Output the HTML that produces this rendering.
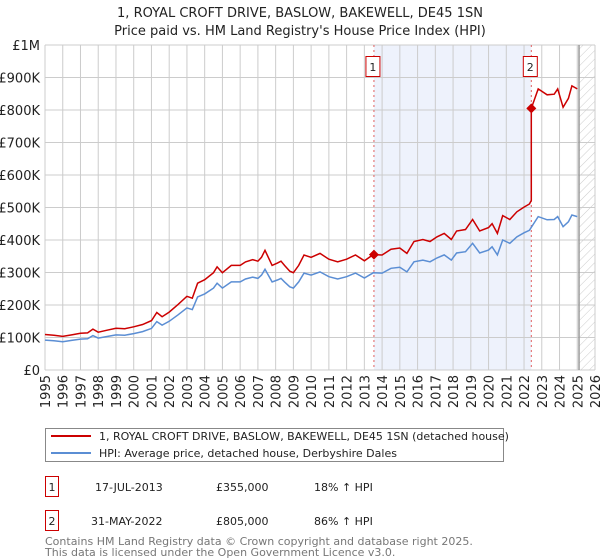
<!DOCTYPE html>
<html><head><meta charset="utf-8"><style>
body{margin:0;background:#fff;font-family:"Liberation Sans","DejaVu Sans",sans-serif;}
#wrap{position:relative;width:600px;height:560px;overflow:hidden}
</style></head><body><div id="wrap">
<svg id="svg" width="600" height="560" xmlns="http://www.w3.org/2000/svg" font-family="DejaVu Sans, Liberation Sans, sans-serif">
<defs><pattern id="hatch" width="6" height="6" patternUnits="userSpaceOnUse" patternTransform="rotate(45)"><line x1="0" y1="0" x2="0" y2="6" stroke="#ccc" stroke-width="1"/></pattern></defs>
<text x="300" y="17" text-anchor="middle" font-size="13" fill="#222">1, ROYAL CROFT DRIVE, BASLOW, BAKEWELL, DE45 1SN</text>
<text x="300" y="35" text-anchor="middle" font-size="13" fill="#222">Price paid vs. HM Land Registry's House Price Index (HPI)</text>
<g id="plot"></g>
<rect x="45.5" y="428.5" width="458" height="33" fill="#fff" stroke="#888"/>
<line x1="51" y1="436" x2="91" y2="436" stroke="#cc0000" stroke-width="2"/>
<text x="99" y="440" font-size="11" fill="#222">1, ROYAL CROFT DRIVE, BASLOW, BAKEWELL, DE45 1SN (detached house)</text>
<line x1="51" y1="453" x2="91" y2="453" stroke="#5b8ed4" stroke-width="2"/>
<text x="99" y="457" font-size="11" fill="#222">HPI: Average price, detached house, Derbyshire Dales</text>
<g>
<rect x="45.5" y="476.5" width="13" height="20" fill="#fff" stroke="#cc0000"/>
<text x="52" y="491" font-size="11" text-anchor="middle" fill="#222">1</text>
<text x="95" y="491" font-size="11" fill="#222">17-JUL-2013</text>
<text x="216" y="491" font-size="11" fill="#222">£355,000</text>
<text x="314" y="491" font-size="11" fill="#222">18% ↑ HPI</text></g>
<g>
<rect x="45.5" y="510.5" width="13" height="20" fill="#fff" stroke="#cc0000"/>
<text x="52" y="525" font-size="11" text-anchor="middle" fill="#222">2</text>
<text x="91" y="525" font-size="11" fill="#222">31-MAY-2022</text>
<text x="216" y="525" font-size="11" fill="#222">£805,000</text>
<text x="314" y="525" font-size="11" fill="#222">86% ↑ HPI</text></g>
<text x="45" y="545" font-size="11" fill="#777">Contains HM Land Registry data © Crown copyright and database right 2025.</text>
<text x="45" y="556" font-size="11" fill="#777">This data is licensed under the Open Government Licence v3.0.</text>
</svg></div>
<script>
const yearTicks=[1995,1996,1997,1998,1999,2000,2001,2002,2003,2004,2005,2006,2007,2008,2009,2010,2011,2012,2013,2014,2015,2016,2017,2018,2019,2020,2021,2022,2023,2024,2025,2026];
const valueTicks=[0,100000,200000,300000,400000,500000,600000,700000,800000,900000,1000000];
const valueLabels=["£0","£100K","£200K","£300K","£400K","£500K","£600K","£700K","£800K","£900K","£1M"];
const hpiDates=[1995.0,1995.5,1996.0,1996.5,1997.0,1997.4,1997.7,1998.0,1998.5,1999.0,1999.5,2000.0,2000.5,2001.0,2001.3,2001.6,2002.0,2002.5,2003.0,2003.3,2003.6,2004.0,2004.5,2004.7,2005.0,2005.5,2006.0,2006.3,2006.7,2007.0,2007.2,2007.4,2007.8,2008.1,2008.3,2008.5,2008.8,2009.0,2009.3,2009.6,2010.0,2010.5,2011.0,2011.5,2012.0,2012.5,2013.0,2013.5,2014.0,2014.5,2015.0,2015.4,2015.8,2016.3,2016.7,2017.1,2017.5,2017.9,2018.2,2018.7,2019.1,2019.5,2020.0,2020.2,2020.5,2020.8,2021.2,2021.6,2022.0,2022.3,2022.8,2023.3,2023.7,2023.9,2024.2,2024.5,2024.7,2025.0];
const hpiValues=[92,90,87,91,95,96,106,98,103,108,107,112,118,128,149,138,150,170,191,186,225,234,252,267,252,271,271,280,286,282,292,310,271,277,282,271,256,252,271,298,292,302,287,280,287,298,283,299,298,313,316,302,333,338,333,345,354,338,360,364,390,360,369,379,354,400,390,410,422,430,472,462,463,472,441,456,477,472];
const saleDates=[2013.54,2022.41];
const salePrices=[355000,805000];
const saleLabels=["1","2"];
const NS="http://www.w3.org/2000/svg";
const X0=45,X1=595,Y0=370,Y1=45;
const xs=y=>X0+(y-1995)/(2026-1995)*(X1-X0);
const ys=v=>Y0-v/1000000*(Y0-Y1);
const g=document.getElementById('plot');
function mk(t,a){const e=document.createElementNS(NS,t);for(const k in a)e.setAttribute(k,a[k]);g.appendChild(e);return e;}
function hpiAt(d){for(let i=0;i<hpiDates.length-1;i++){if(d>=hpiDates[i]&&d<=hpiDates[i+1]){const f=(d-hpiDates[i])/(hpiDates[i+1]-hpiDates[i]);return (hpiValues[i]+f*(hpiValues[i+1]-hpiValues[i]))*1000;}}return hpiValues[hpiValues.length-1]*1000;}
let e;
e=mk('rect',{x:xs(saleDates[0]),y:Y1,width:xs(saleDates[1])-xs(saleDates[0]),height:Y0-Y1,fill:'#eef2fc'});


e=mk('rect',{x:xs(2025.1),y:Y1,width:X1-xs(2025.1),height:Y0-Y1,fill:'url(#hatch)'});


valueTicks.forEach((v,i)=>{
 e=mk('line',{x1:X0,x2:X1,y1:ys(v),y2:ys(v),stroke:'#ccc'});
 
 
 e=mk('text',{x:40,y:ys(v)+5,'text-anchor':'end','font-size':13,fill:'#222'});e.textContent=valueLabels[i];
 
 
});
yearTicks.forEach(y=>{
 e=mk('line',{x1:xs(y),x2:xs(y),y1:Y1,y2:Y0,stroke:'#ccc'});
 
 
 e=mk('text',{x:0,y:0,'text-anchor':'end','font-size':13,fill:'#222',transform:`translate(${xs(y)+5},${Y0+5}) rotate(-90)`});e.textContent=y;
 
 
});
e=mk('line',{x1:xs(2025.1),x2:xs(2025.1),y1:Y1,y2:Y0,stroke:'#999','stroke-width':1.5});


saleDates.forEach((d,i)=>{
 e=mk('line',{x1:xs(d),x2:xs(d),y1:Y1,y2:Y0,stroke:'#e06060','stroke-dasharray':'2,3'});
 
 
 e=mk('rect',{x:xs(d)-7-1,y:56.5,width:14,height:20,fill:'#fff',stroke:'#cc0000'});
 
 
 e=mk('text',{x:xs(d)-1,y:71,'text-anchor':'middle','font-size':11,fill:'#222'});e.textContent=saleLabels[i];
 
 
});
const hpts=hpiDates.map((d,i)=>xs(d).toFixed(1)+','+ys(hpiValues[i]*1000).toFixed(1)).join(' ');
e=mk('polyline',{points:hpts,fill:'none',stroke:'#5b8ed4','stroke-width':1.5});


const f1=salePrices[0]/hpiAt(saleDates[0]), f2=salePrices[1]/hpiAt(saleDates[1]);
let rp=[];
hpiDates.forEach((d,i)=>{ if(d<saleDates[1]) rp.push([d,hpiValues[i]*1000*f1]); });
rp.push([saleDates[1],hpiAt(saleDates[1])*f1]);
rp.push([saleDates[1],salePrices[1]]);
hpiDates.forEach((d,i)=>{ if(d>saleDates[1]) rp.push([d,hpiValues[i]*1000*f2]); });
e=mk('polyline',{points:rp.map(p=>xs(p[0]).toFixed(1)+','+ys(p[1]).toFixed(1)).join(' '),fill:'none',stroke:'#cc0000','stroke-width':1.5});


saleDates.forEach((d,i)=>{
 const cx=xs(d),cy=ys(salePrices[i]);
 e=mk('polygon',{points:`${cx},${cy-5} ${cx+5},${cy} ${cx},${cy+5} ${cx-5},${cy}`,fill:'#cc0000'});
 
 
});
</script></body></html>
